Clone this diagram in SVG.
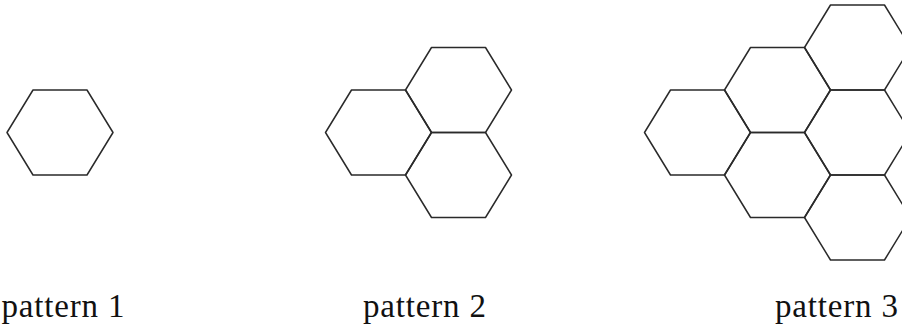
<svg xmlns="http://www.w3.org/2000/svg" width="902" height="327" viewBox="0 0 902 327">
<style>
.hex{fill:none;stroke:#2a2a2a;stroke-width:1.5;stroke-linejoin:round}
.lbl{font-family:"Liberation Serif","DejaVu Serif",serif;font-size:33px;fill:#111}
</style>
<defs>
<polygon id="h" points="-53,0 -27,-42.5 27,-42.5 53,0 27,42.5 -27,42.5"/>
</defs>
<g id="pattern1">
<use href="#h" class="hex" x="60" y="132.5"/>
<text class="lbl" x="1.5" y="317" textLength="123" lengthAdjust="spacing">pattern 1</text>
</g>
<g id="pattern2">
<use href="#h" class="hex" x="378.5" y="132.5"/>
<use href="#h" class="hex" x="458.5" y="90"/>
<use href="#h" class="hex" x="458.5" y="175"/>
<text class="lbl" x="363" y="317" textLength="123" lengthAdjust="spacing">pattern 2</text>
</g>
<g id="pattern3">
<use href="#h" class="hex" x="697.5" y="132.5"/>
<use href="#h" class="hex" x="777.5" y="90"/>
<use href="#h" class="hex" x="777.5" y="175"/>
<use href="#h" class="hex" x="857.5" y="47.5"/>
<use href="#h" class="hex" x="857.5" y="132.5"/>
<use href="#h" class="hex" x="857.5" y="217.5"/>
<text class="lbl" x="775" y="317" textLength="123" lengthAdjust="spacing">pattern 3</text>
</g>
</svg>
